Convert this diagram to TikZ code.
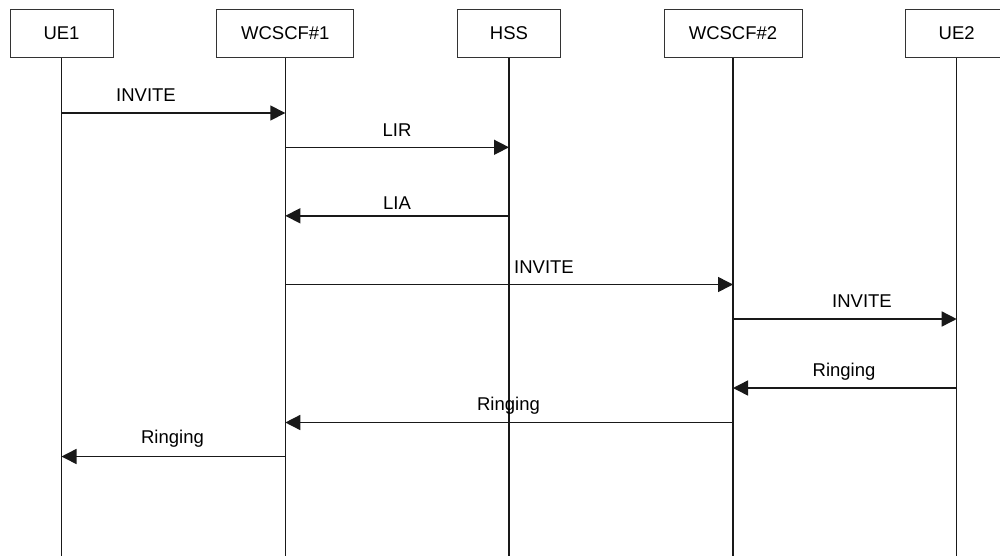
\documentclass[tikz,border=0pt]{standalone}
\usepackage{fontspec}
\setmainfont{Liberation Sans}
\usetikzlibrary{arrows.meta}
\begin{document}
\begin{tikzpicture}[x=1pt,y=-1pt,
  entity/.style={draw=black!80,line width=1pt,fill=white,minimum height=48pt,inner sep=0pt,font=\fontsize{18.5}{22}\selectfont},
  life/.style={line width=1.5pt,black!90},
  msg/.style={line width=1.5pt,black!90,-{Triangle[length=15pt,width=15pt]},shorten >=0pt},
  lbl/.style={anchor=base,inner sep=0pt,font=\fontsize{18.5}{22}\selectfont}]
\useasboundingbox (0,0) rectangle (1000,555);
\fill[white] (0,0) rectangle (1000,555);
% entities
\node[entity,minimum width=103pt] (ue1) at (61.5,33.5) {UE1};
\node[entity,minimum width=137pt] (w1) at (285.3,33.5) {WCSCF\#1};
\node[entity,minimum width=103pt] (hss) at (509,33.5) {HSS};
\node[entity,minimum width=138pt] (w2) at (733,33.5) {WCSCF\#2};
\node[entity,minimum width=103pt] (ue2) at (956.7,33.5) {UE2};
% lifeline ends
\coordinate (bot) at (0,556);
\foreach \n in {ue1,w1,hss,w2,ue2}{\draw[life] (\n.south) -- (\n.south |- bot);}
% message rows
\coordinate (m1) at (0,113);
\coordinate (m2) at (0,147.3);
\coordinate (m3) at (0,215.8);
\coordinate (m4) at (0,284.5);
\coordinate (m5) at (0,319);
\coordinate (m6) at (0,388);
\coordinate (m7) at (0,422.5);
\coordinate (m8) at (0,456.5);
\draw[msg] (ue1 |- m1) -- (w1 |- m1);
\draw[msg] (w1 |- m2) -- (hss |- m2);
\draw[msg] (hss |- m3) -- (w1 |- m3);
\draw[msg] (w1 |- m4) -- (w2 |- m4);
\draw[msg] (w2 |- m5) -- (ue2 |- m5);
\draw[msg] (ue2 |- m6) -- (w2 |- m6);
\draw[msg] (w2 |- m7) -- (w1 |- m7);
\draw[msg] (w1 |- m8) -- (ue1 |- m8);
% labels
\node[lbl] (l1) at (146,101.5) {INVITE};
\node[lbl] (l2) at (397,136) {LIR};
\node[lbl] (l3) at (397,209) {LIA};
\node[lbl] (l4) at (544,273) {INVITE};
\node[lbl] (l5) at (862,307) {INVITE};
\node[lbl] (l6) at (844,376) {Ringing};
\node[lbl] (l7) at (508.5,410) {Ringing};
\node[lbl] (l8) at (172.5,443.5) {Ringing};
\end{tikzpicture}
\end{document}
